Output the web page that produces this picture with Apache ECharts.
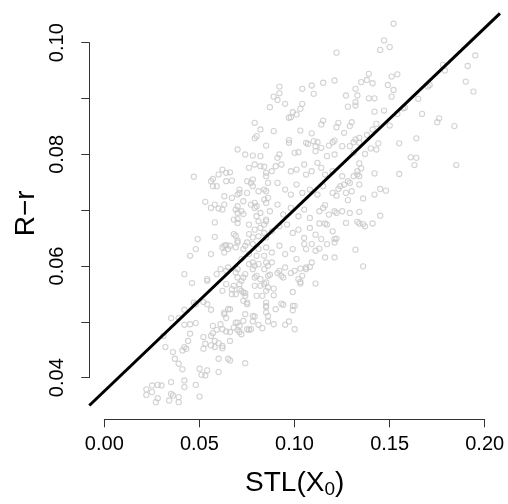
<!DOCTYPE html>
<html><head><meta charset="utf-8">
<script src="https://cdn.jsdelivr.net/npm/echarts@6/dist/echarts.min.js"></script>
<style>html,body{margin:0;padding:0;background:#fff}#c{width:508px;height:504px}</style>
</head><body><div id="c"></div>
<script>
// tick values
const xTicks = [0.00, 0.05, 0.10, 0.15, 0.20];
const yTicks = [0.04, 0.05, 0.06, 0.07, 0.08, 0.09, 0.10];
const xTitle = 'STL(X';
const xTitleSub = '0';
const yTitle = 'R\u2212r';
// plot ranges (R style, 4% padding)
const xRange = [-0.008, 0.208];
const yRange = [0.03255, 0.1061];
// fitted line
const fitIntercept = 0.0374;
const fitSlope = 0.3263;
// scatter samples [STL(X0), R-r]
const upperRight = [
[0.152,0.1034],[0.147,0.1004],[0.145,0.0987],[0.150,0.0992],[0.122,0.0982],[0.195,0.0977],[0.191,0.0958],[0.178,0.0960],[0.179,0.0950],[0.190,0.0930],[0.194,0.0912],[0.139,0.0944],[0.135,0.0929],[0.138,0.0933],[0.141,0.0927],[0.151,0.0939],[0.154,0.0943],[0.149,0.0924],[0.152,0.0915],[0.151,0.0903],[0.171,0.0924],[0.170,0.0921],[0.165,0.0899],[0.157,0.0882],[0.167,0.0872],[0.176,0.0864],[0.175,0.0857],[0.184,0.0850],[0.164,0.0828],[0.155,0.0819],[0.161,0.0794],[0.164,0.0793],[0.163,0.0780],[0.185,0.0780],[0.155,0.0764],[0.142,0.0765],[0.132,0.0917],[0.133,0.0905],[0.132,0.0893],[0.132,0.0887],[0.139,0.0900],[0.142,0.0900],[0.142,0.0876],[0.147,0.0878],[0.154,0.0872],[0.158,0.0883],[0.132,0.0826],[0.134,0.0829],[0.138,0.0834],[0.141,0.0844],[0.143,0.0854],[0.150,0.0851],[0.137,0.0800],[0.140,0.0810],[0.143,0.0808],[0.144,0.0819],[0.134,0.0783],[0.135,0.0774],[0.133,0.0763],[0.134,0.0760],[0.145,0.0737],[0.148,0.0734],[0.142,0.0727],[0.136,0.0720],[0.134,0.0696],[0.145,0.0689],[0.134,0.0675],[0.136,0.0674],[0.137,0.0670],[0.141,0.0675],[0.133,0.0678],[0.132,0.0628],[0.136,0.0598]
];
const upperMiddle = [
[0.092,0.0921],[0.092,0.0909],[0.089,0.0903],[0.091,0.0897],[0.095,0.0890],[0.087,0.0884],[0.104,0.0917],[0.109,0.0923],[0.110,0.0908],[0.115,0.0928],[0.121,0.0932],[0.127,0.0905],[0.128,0.0885],[0.104,0.0890],[0.103,0.0881],[0.099,0.0875],[0.098,0.0866],[0.097,0.0865],[0.101,0.0871],[0.079,0.0856],[0.082,0.0844],[0.080,0.0832],[0.079,0.0828],[0.089,0.0841],[0.085,0.0815],[0.115,0.0860],[0.114,0.0853],[0.123,0.0856],[0.122,0.0848],[0.130,0.0857],[0.129,0.0850],[0.126,0.0838],[0.103,0.0842],[0.109,0.0837],[0.097,0.0825],[0.097,0.0820],[0.107,0.0818],[0.110,0.0823],[0.112,0.0821],[0.111,0.0814],[0.120,0.0821],[0.121,0.0824],[0.118,0.0815],[0.125,0.0814],[0.131,0.0821],[0.129,0.0814]
];
const center = [
[0.070,0.0808],[0.074,0.0799],[0.078,0.0797],[0.092,0.0799],[0.091,0.0793],[0.100,0.0802],[0.102,0.0803],[0.106,0.0820],[0.111,0.0805],[0.114,0.0811],[0.117,0.0796],[0.121,0.0799],[0.131,0.0802],[0.134,0.0820],
[0.076,0.0775],[0.079,0.0781],[0.082,0.0778],[0.085,0.0766],[0.088,0.0769],[0.090,0.0778],[0.093,0.0781],[0.098,0.0769],[0.101,0.0772],[0.105,0.0781],[0.106,0.0763],[0.109,0.0769],[0.112,0.0784],[0.114,0.0775],[0.116,0.0763],[0.120,0.0769],[0.125,0.0760],[0.128,0.0751],[0.131,0.0760],[0.133,0.0769],
[0.071,0.0736],[0.075,0.0751],[0.078,0.0742],[0.081,0.0733],[0.084,0.0736],[0.086,0.0721],[0.091,0.0748],[0.095,0.0736],[0.098,0.0727],[0.101,0.0745],[0.104,0.0730],[0.108,0.0736],[0.112,0.0727],[0.115,0.0742],[0.120,0.0730],[0.124,0.0742],[0.127,0.0730],[0.130,0.0733],[0.134,0.0745],
[0.070,0.0706],[0.072,0.0697],[0.077,0.0709],[0.079,0.0703],[0.082,0.0694],[0.085,0.0712],[0.087,0.0697],[0.091,0.0709],[0.094,0.0691],[0.098,0.0703],[0.102,0.0688],[0.105,0.0700],[0.108,0.0685],[0.113,0.0697],[0.115,0.0703],[0.118,0.0691],[0.121,0.0697],[0.125,0.0697],[0.129,0.0694],
[0.070,0.0676],[0.076,0.0673],[0.079,0.0664],[0.082,0.0667],[0.085,0.0679],[0.088,0.0661],[0.092,0.0670],[0.096,0.0673],[0.099,0.0658],[0.102,0.0664],[0.105,0.0649],[0.108,0.0667],[0.111,0.0655],[0.114,0.0647],[0.117,0.0673],[0.120,0.0661],[0.121,0.0647],[0.127,0.0676],
[0.070,0.0641],[0.074,0.0635],[0.078,0.0638],[0.081,0.0629],[0.085,0.0632],[0.088,0.0623],[0.092,0.0635],[0.095,0.0620],[0.099,0.0629],[0.101,0.0611],[0.105,0.0638],[0.106,0.0629],[0.111,0.0626],[0.116,0.0614],[0.121,0.0614],
[0.072,0.0611],[0.076,0.0602],[0.079,0.0599],[0.084,0.0593],[0.088,0.0605],[0.092,0.0590],[0.095,0.0596],[0.100,0.0590],[0.106,0.0596],[0.109,0.0605],[0.069,0.0587],[0.074,0.0584],[0.080,0.0581],[0.086,0.0581],[0.093,0.0581],[0.104,0.0581]
];
const rightMiddle = [
[0.122,0.0694],[0.116,0.0675],[0.116,0.0708],[0.113,0.0675],[0.128,0.0717],[0.122,0.0725],[0.126,0.0745],[0.123,0.0737],[0.129,0.0748],[0.122,0.0648],[0.121,0.0641],[0.117,0.0638],[0.109,0.0638],[0.113,0.0630],[0.111,0.0567],[0.108,0.0597],[0.103,0.0594],[0.103,0.0570],[0.099,0.0552],[0.099,0.0527],[0.094,0.0529],[0.093,0.0531],[0.090,0.0521],[0.085,0.0527],[0.086,0.0509],[0.102,0.0575],[0.098,0.0586],[0.094,0.0578],[0.087,0.0583]
];
const lowerMiddle = [
[0.074,0.0424],[0.100,0.0485],[0.097,0.0499],[0.095,0.0493],[0.089,0.0494],[0.086,0.0499],[0.081,0.0493],[0.083,0.0487],[0.078,0.0499],[0.079,0.0508],[0.076,0.0484],[0.075,0.0485],[0.071,0.0480],[0.070,0.0484],[0.070,0.0497],[0.073,0.0500],[0.074,0.0512],[0.100,0.0527],[0.099,0.0519],[0.085,0.0525],[0.089,0.0546],[0.089,0.0558],[0.086,0.0560],[0.084,0.0566],[0.082,0.0563],[0.079,0.0578],[0.091,0.0586],[0.103,0.0567],[0.106,0.0593],[0.072,0.0554],[0.073,0.0536],[0.075,0.0533],[0.074,0.0550],[0.071,0.0557],[0.069,0.0548],[0.072,0.0572],[0.070,0.0578]
];
const leftMiddle = [
[0.047,0.0759],[0.062,0.0772],[0.064,0.0766],[0.066,0.0767],[0.060,0.0763],[0.057,0.0755],[0.056,0.0751],[0.059,0.0742],[0.064,0.0751],[0.067,0.0752],[0.057,0.0742],[0.053,0.0714],[0.056,0.0703],[0.058,0.0709],[0.060,0.0702],[0.062,0.0700],[0.063,0.0709],[0.063,0.0724],[0.067,0.0721],[0.070,0.0727],[0.069,0.0700],[0.070,0.0694],[0.058,0.0677],[0.068,0.0682],[0.049,0.0647],[0.048,0.0629],[0.045,0.0617],[0.056,0.0620],[0.058,0.0651],[0.062,0.0632],[0.064,0.0636],[0.066,0.0635],[0.063,0.0623],[0.069,0.0653],[0.070,0.0644],[0.042,0.0584],[0.054,0.0575],[0.059,0.0584],[0.061,0.0593],[0.064,0.0590]
];
const midLeftCore = [
[0.082,0.0796],[0.084,0.0777],[0.085,0.0760],[0.086,0.0748],[0.078,0.0754],[0.077,0.0748],[0.085,0.0733],[0.075,0.0730],[0.071,0.0730],[0.073,0.0715],[0.079,0.0712],[0.084,0.0718],[0.080,0.0706],[0.070,0.0683],[0.073,0.0692],[0.080,0.0688],[0.081,0.0679],[0.084,0.0673],[0.085,0.0682],[0.068,0.0656],[0.076,0.0656],[0.078,0.0650],[0.081,0.0652],[0.084,0.0658],[0.085,0.0650],[0.075,0.0641],[0.063,0.0635],[0.065,0.0629],[0.069,0.0632],[0.073,0.0629],[0.076,0.0620],[0.080,0.0617],[0.084,0.0617],[0.078,0.0605],[0.081,0.0602],[0.085,0.0605],[0.065,0.0596],[0.070,0.0593],[0.078,0.0593],[0.082,0.0575],[0.085,0.0569],[0.086,0.0599],[0.073,0.0578],[0.064,0.0566],[0.067,0.0557],[0.071,0.0566],[0.073,0.0551],[0.074,0.0545],[0.079,0.0563],[0.085,0.0554],[0.080,0.0545],[0.083,0.0545],[0.085,0.0533],[0.075,0.0530],[0.063,0.0515],[0.065,0.0521],[0.078,0.0509],[0.085,0.0515]
];
const lowerLeft = [
[0.046,0.0568],[0.054,0.0572],[0.062,0.0554],[0.067,0.0548],[0.068,0.0563],[0.056,0.0520],[0.054,0.0530],[0.052,0.0534],[0.048,0.0530],[0.047,0.0533],[0.042,0.0520],[0.035,0.0505],[0.039,0.0505],[0.066,0.0521],[0.063,0.0512],[0.064,0.0505],[0.061,0.0494],[0.059,0.0484],[0.057,0.0478],[0.056,0.0473],[0.058,0.0464],[0.062,0.0485],[0.064,0.0481],[0.066,0.0480],[0.069,0.0497],[0.068,0.0488],[0.048,0.0496],[0.045,0.0494],[0.042,0.0493],[0.045,0.0477],[0.044,0.0464],[0.042,0.0453],[0.041,0.0447],[0.037,0.0432],[0.039,0.0423],[0.041,0.0413],[0.036,0.0444],[0.032,0.0453],[0.031,0.0473],[0.052,0.0471],[0.052,0.0450],[0.053,0.0459],[0.056,0.0456],[0.058,0.0453],[0.060,0.0460],[0.062,0.0451],[0.050,0.0414],[0.054,0.0411],[0.053,0.0402],[0.051,0.0403],[0.060,0.0408],[0.065,0.0432],[0.066,0.0429],[0.048,0.0385],[0.050,0.0364],[0.042,0.0393],[0.042,0.0381],[0.035,0.0390],[0.030,0.0384],[0.025,0.0384],[0.022,0.0377],[0.022,0.0367],[0.025,0.0372],[0.028,0.0361],[0.027,0.0354],[0.035,0.0369],[0.036,0.0366],[0.039,0.0363],[0.034,0.0357],[0.039,0.0354],[0.057,0.0491],[0.071,0.0491],[0.077,0.0485],[0.072,0.0476],[0.062,0.0455],[0.066,0.0464],[0.060,0.0432],[0.043,0.0450],[0.028,0.0385]
];
const samples = [].concat(upperRight, upperMiddle, center, rightMiddle, lowerMiddle, leftMiddle, midLeftCore, lowerLeft);

const fit = x => fitIntercept + fitSlope * x;
const fitLine = [[xRange[0], fit(xRange[0])], [xRange[1], fit(xRange[1])]];

const FONT = 'Liberation Sans, Arial, Helvetica, sans-serif';
const plot = { left: 89.3, right: 8, top: 8.7, bottom: 84.7 };
const chart = echarts.init(document.getElementById('c'), null, { renderer: 'canvas' });
const fmt2 = v => { const k = Math.round(v * 100); return k % 2 === 0 ? (k / 100).toFixed(2) : ''; };

chart.setOption({
  animation: false,
  backgroundColor: '#ffffff',
  grid: [
    { left: plot.left, right: plot.right, top: plot.top, bottom: plot.bottom },
    { left: 104.3, right: 23.3, top: plot.top, bottom: plot.bottom },
    { left: plot.left, right: plot.right, top: 42.7, bottom: 126.3 }
  ],
  xAxis: [
    { gridIndex: 0, type: 'value', min: xRange[0], max: xRange[1], show: true,
      axisLine: { show: false }, axisTick: { show: false }, axisLabel: { show: false }, splitLine: { show: false },
      name: '{m|' + xTitle + '}{s|' + xTitleSub + '}{m|)}', nameLocation: 'middle', nameGap: 51,
      nameTextStyle: { fontFamily: FONT, color: '#000',
        rich: { m: { fontFamily: FONT, fontSize: 28, color: '#000', lineHeight: 30, verticalAlign: 'top' },
                s: { fontFamily: FONT, fontSize: 19, color: '#000', lineHeight: 20, verticalAlign: 'top', padding: [11, 0, 0, 0] } } } },
    { gridIndex: 1, type: 'value', min: xTicks[0], max: xTicks[xTicks.length - 1], interval: 0.05,
      axisLine: { show: true, lineStyle: { color: '#333', width: 1 } },
      axisTick: { show: true, length: 8, lineStyle: { color: '#333', width: 1 } },
      axisLabel: { show: true, fontFamily: FONT, fontSize: 20, color: '#000', margin: 15, formatter: v => v.toFixed(2), showMinLabel: true, showMaxLabel: true, hideOverlap: false },
      splitLine: { show: false } },
    { gridIndex: 2, type: 'value', show: false, min: 0, max: 1 }
  ],
  yAxis: [
    { gridIndex: 0, type: 'value', min: yRange[0], max: yRange[1], show: true,
      axisLine: { show: false }, axisTick: { show: false }, axisLabel: { show: false }, splitLine: { show: false },
      name: yTitle, nameLocation: 'middle', nameGap: 49,
      nameTextStyle: { fontFamily: FONT, fontSize: 28, color: '#000' } },
    { gridIndex: 1, type: 'value', show: false, min: 0, max: 1 },
    { gridIndex: 2, type: 'value', min: yTicks[0], max: yTicks[yTicks.length - 1], interval: 0.01,
      axisLine: { show: true, lineStyle: { color: '#333', width: 1 } },
      axisTick: { show: true, length: 8, lineStyle: { color: '#333', width: 1 } },
      axisLabel: { show: true, rotate: 90, fontFamily: FONT, fontSize: 20, color: '#000', margin: 22, formatter: fmt2, showMinLabel: true, showMaxLabel: true, hideOverlap: false },
      splitLine: { show: false } }
  ],
  series: [
    { type: 'scatter', xAxisIndex: 0, yAxisIndex: 0, data: samples, symbol: 'circle', symbolSize: 5.2,
      itemStyle: { color: 'rgba(0,0,0,0)', borderColor: '#c8c8c8', borderWidth: 1.1 },
      emphasis: { disabled: true }, silent: true, clip: true, z: 2 },
    { type: 'line', xAxisIndex: 0, yAxisIndex: 0, data: fitLine, symbol: 'none', clip: true,
      lineStyle: { color: '#000', width: 3 }, silent: true, z: 3 }
  ]
});
</script></body></html>
